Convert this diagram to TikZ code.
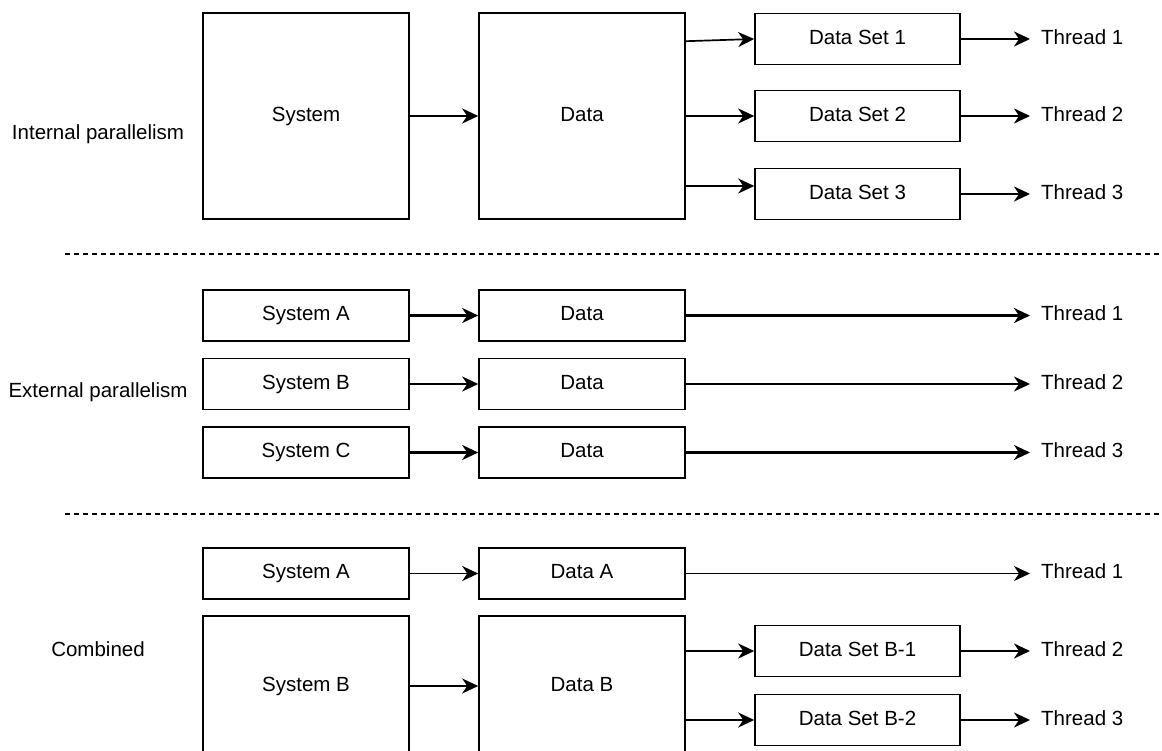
\documentclass[tikz,border=0pt]{standalone}
\usepackage{fontspec}
\setmainfont{Liberation Sans}
\usetikzlibrary{arrows.meta,calc}
\begin{document}
\begin{tikzpicture}[x=1pt,y=-1pt,
  txt/.style={font=\fontsize{20.5}{24}\selectfont, text height=14.7pt, text depth=4pt},
  box/.style={draw, line width=1.6pt, minimum width=206pt, inner sep=0pt, txt},
  tall/.style={box, minimum height=206pt},
  flat/.style={box, minimum height=51pt},
  lbl/.style={inner sep=0pt, txt},
  thr/.style={lbl, anchor=west, inner xsep=11pt},
  tip/.style={-{Stealth[length=16pt,width=15pt,inset=5pt]}},
  thick arr/.style={tip, line width=2.6pt},
  thin arr/.style={tip, line width=1.7pt},
  sep/.style={dashed, dash pattern=on 5pt off 4pt, line width=1.7pt}]
\useasboundingbox (0,0) rectangle (1162,751);
\begin{scope}
\clip (0,0) rectangle (1162,751);
% Section 1
\node[lbl] (l1) at (98,134) {Internal parallelism};
\node[tall] (sys1) at (306,116) {System};
\node[tall] (data1) at (582,116) {Data};
\node[flat, minimum width=205pt] (ds1) at (857.5,39) {Data Set 1};
\node[flat, minimum width=205pt] (ds2) at (857.5,116) {Data Set 2};
\node[flat, minimum width=205pt] (ds3) at (857.5,194) {Data Set 3};
\node[thr] (t11) at (1030,39) {Thread 1};
\node[thr] (t12) at (1030,116) {Thread 2};
\node[thr] (t13) at (1030,194) {Thread 3};
\draw[thick arr] (sys1) -- (data1);
\draw[thin arr] ($(data1.north east)+(0,29)$) -- (ds1.west);
\draw[thick arr] (data1.east) -- (ds2.west);
\draw[thin arr] ($(data1.east |- ds3.west)+(0,-8)$) -- ($(ds3.west)+(0,-8)$);
\draw[thick arr] (ds1.east) -- (t11.west);
\draw[thick arr] (ds2.east) -- (t12.west);
\draw[thick arr] (ds3.east) -- (t13.west);
% separators
\coordinate (s1a) at (65,254);
\coordinate (s1b) at (1162,254);
\coordinate (s2a) at (65,514);
\coordinate (s2b) at (1162,514);
\draw[sep] (s1a) -- (s1b);
\draw[sep] (s2a) -- (s2b);
% Section 2
\node[lbl] (l2) at (98,392) {External parallelism};
\node[flat] (sa2) at (306,315.5) {System A};
\node[flat] (sb2) at (306,384) {System B};
\node[flat] (sc2) at (306,452.5) {System C};
\node[flat] (da2) at (582,315.5) {Data};
\node[flat] (db2) at (582,384) {Data};
\node[flat] (dc2) at (582,452.5) {Data};
\node[thr] (t21) at (1030,315.5) {Thread 1};
\node[thr] (t22) at (1030,384) {Thread 2};
\node[thr] (t23) at (1030,452.5) {Thread 3};
\draw[thick arr] (sa2) -- (da2);
\draw[thin arr] (sb2) -- (db2);
\draw[thick arr] (sc2) -- (dc2);
\draw[thick arr] (da2) -- (t21.west);
\draw[thin arr] (db2) -- (t22.west);
\draw[thick arr] (dc2) -- (t23.west);
% Section 3
\node[lbl] (l3) at (98,651) {Combined};
\node[flat] (sa3) at (306,573.5) {System A};
\node[flat] (da3) at (582,573.5) {Data A};
\node[box, minimum height=206pt] (sb3) at (306,719) {};
\node[box, minimum height=206pt] (db3) at (582,719) {};
\node[lbl] (sb3t) at (306,686) {System B};
\node[lbl] (db3t) at (582,686) {Data B};
\node[flat, minimum width=205pt] (dsb1) at (857.5,651) {Data Set B-1};
\node[flat, minimum width=205pt] (dsb2) at (857.5,720) {Data Set B-2};
\node[thr] (t31) at (1030,573.5) {Thread 1};
\node[thr] (t32) at (1030,651) {Thread 2};
\node[thr] (t33) at (1030,720) {Thread 3};
\draw[thin arr] (sa3) -- (da3);
\draw[thin arr] (da3) -- (t31.west);
\draw[thin arr] (sb3.east |- sb3t) -- (db3.west |- db3t);
\draw[thick arr] (db3.east |- dsb1) -- (dsb1.west);
\draw[thin arr] (db3.east |- dsb2) -- (dsb2.west);
\draw[thick arr] (dsb1.east) -- (t32.west);
\draw[thick arr] (dsb2.east) -- (t33.west);
\end{scope}
\end{tikzpicture}
\end{document}
